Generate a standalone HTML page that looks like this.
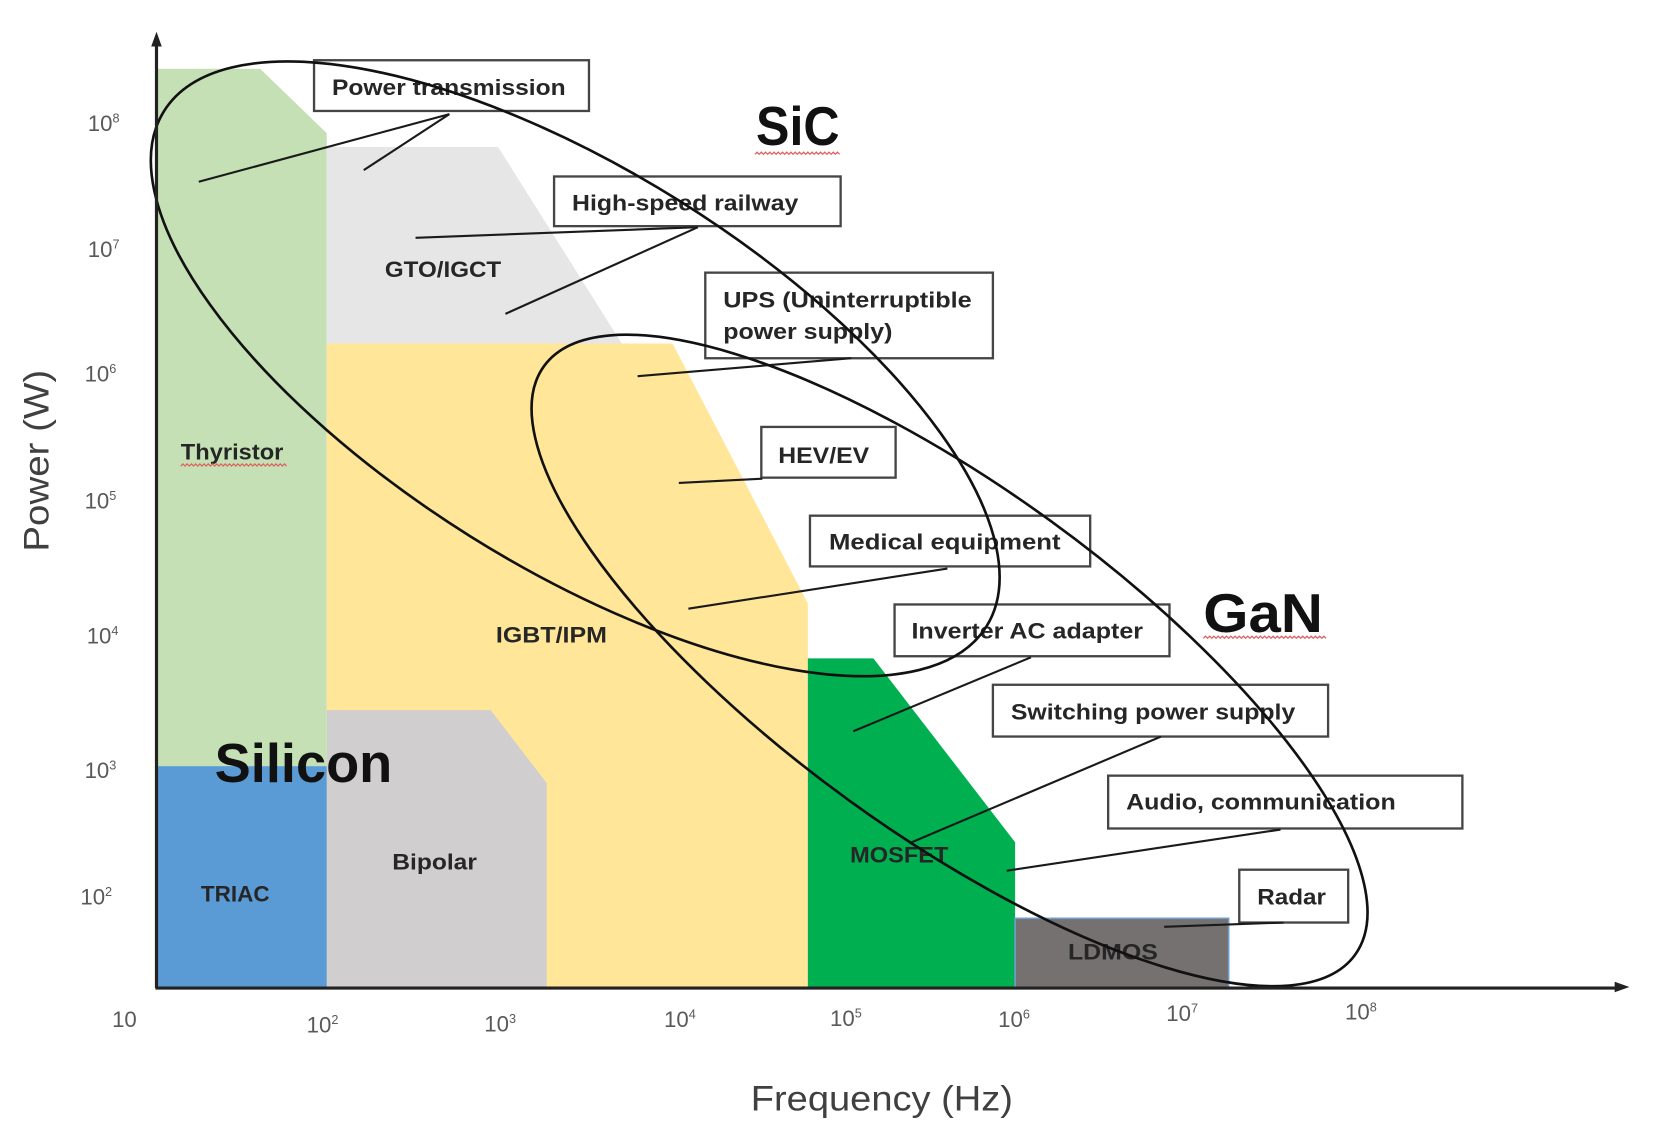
<!DOCTYPE html>
<html><head><meta charset="utf-8"><style>
html,body{margin:0;padding:0;background:#fff;}
svg{display:block;}
text{font-family:"Liberation Sans",Arial,sans-serif;}
.bl{font-weight:bold;fill:#262626;font-size:21px;}
.tk{fill:#595959;font-size:21px;}
.big{font-weight:bold;fill:#111;font-size:52px;}
.ax{fill:#404040;font-size:33px;}
</style></head><body>
<svg width="1658" height="1136" viewBox="0 0 1568 1075" preserveAspectRatio="none" xmlns="http://www.w3.org/2000/svg">
<rect x="0" y="0" width="1568" height="1075" fill="#fff"/>
<!-- regions -->
<polygon points="148,65 246,65 309,126 309,725 148,725" fill="#c5e0b4"/>
<polygon points="309,139 471,139 588,325 309,325" fill="#e6e6e6"/>
<polygon points="309,325 636,325 764,571 764,935 309,935" fill="#ffe699"/>
<polygon points="309,672 464,672 517,741 517,935 309,935" fill="#d0cece"/>
<rect x="148" y="725" width="161" height="210" fill="#5b9bd5"/>
<polygon points="764,623 826,623 960,797 960,935 764,935" fill="#00b050"/>
<rect x="960" y="869" width="202" height="66" fill="#767171" stroke="#6f9fd0" stroke-width="1.5"/>

<!-- region labels -->
<text class="bl" x="171" y="435" textLength="97" lengthAdjust="spacingAndGlyphs">Thyristor</text>
<text class="bl" x="364" y="262" textLength="110" lengthAdjust="spacingAndGlyphs">GTO/IGCT</text>
<text class="bl" x="469" y="608" textLength="105" lengthAdjust="spacingAndGlyphs">IGBT/IPM</text>
<text class="bl" x="190" y="853" textLength="65" lengthAdjust="spacingAndGlyphs">TRIAC</text>
<text class="bl" x="371" y="823" textLength="80" lengthAdjust="spacingAndGlyphs">Bipolar</text>
<text class="bl" x="804" y="816" textLength="93" lengthAdjust="spacingAndGlyphs">MOSFET</text>
<text class="bl" x="1010" y="908" textLength="85" lengthAdjust="spacingAndGlyphs">LDMOS</text>

<!-- big labels -->
<text class="big" x="715" y="137" textLength="79" lengthAdjust="spacingAndGlyphs">SiC</text>
<text class="big" x="1138" y="598" textLength="113" lengthAdjust="spacingAndGlyphs">GaN</text>
<text class="big" x="203" y="740" textLength="168" lengthAdjust="spacingAndGlyphs">Silicon</text>

<!-- red wavy underlines -->
<path d="M714,146 l2,-2 l2,2 l2,-2 l2,2 l2,-2 l2,2 l2,-2 l2,2 l2,-2 l2,2 l2,-2 l2,2 l2,-2 l2,2 l2,-2 l2,2 l2,-2 l2,2 l2,-2 l2,2 l2,-2 l2,2 l2,-2 l2,2 l2,-2 l2,2 l2,-2 l2,2 l2,-2 l2,2 l2,-2 l2,2 l2,-2 l2,2 l2,-2 l2,2 l2,-2 l2,2 l2,-2 l2,2" fill="none" stroke="#e06060" stroke-width="1.2"/>
<path d="M1138,604 l2,-2 l2,2 l2,-2 l2,2 l2,-2 l2,2 l2,-2 l2,2 l2,-2 l2,2 l2,-2 l2,2 l2,-2 l2,2 l2,-2 l2,2 l2,-2 l2,2 l2,-2 l2,2 l2,-2 l2,2 l2,-2 l2,2 l2,-2 l2,2 l2,-2 l2,2 l2,-2 l2,2 l2,-2 l2,2 l2,-2 l2,2 l2,-2 l2,2 l2,-2 l2,2 l2,-2 l2,2 l2,-2 l2,2 l2,-2 l2,2 l2,-2 l2,2 l2,-2 l2,2 l2,-2 l2,2 l2,-2 l2,2 l2,-2 l2,2 l2,-2 l2,2 l2,-2 l2,2" fill="none" stroke="#e06060" stroke-width="1.2"/>
<path d="M171,441 l2,-2 l2,2 l2,-2 l2,2 l2,-2 l2,2 l2,-2 l2,2 l2,-2 l2,2 l2,-2 l2,2 l2,-2 l2,2 l2,-2 l2,2 l2,-2 l2,2 l2,-2 l2,2 l2,-2 l2,2 l2,-2 l2,2 l2,-2 l2,2 l2,-2 l2,2 l2,-2 l2,2 l2,-2 l2,2 l2,-2 l2,2 l2,-2 l2,2 l2,-2 l2,2 l2,-2 l2,2 l2,-2 l2,2 l2,-2 l2,2 l2,-2 l2,2 l2,-2 l2,2 l2,-2 l2,2" fill="none" stroke="#e06060" stroke-width="1.2"/>

<!-- boxes -->
<g fill="#fff" stroke="#454545" stroke-width="2.2">
<rect x="297" y="57" width="260" height="48"/>
<rect x="524" y="167" width="271" height="47"/>
<rect x="667" y="258" width="272" height="81"/>
<rect x="720" y="404" width="127" height="48"/>
<rect x="766" y="488" width="265" height="48"/>
<rect x="846" y="572" width="260" height="49"/>
<rect x="939" y="648" width="317" height="49"/>
<rect x="1048" y="734" width="335" height="50"/>
<rect x="1172" y="823" width="103" height="50"/>
</g>
<text class="bl" x="314" y="90" textLength="221" lengthAdjust="spacingAndGlyphs">Power transmission</text>
<text class="bl" x="541" y="199" textLength="214" lengthAdjust="spacingAndGlyphs">High-speed railway</text>
<text class="bl" x="684" y="291" textLength="235" lengthAdjust="spacingAndGlyphs">UPS (Uninterruptible</text>
<text class="bl" x="684" y="321" textLength="160" lengthAdjust="spacingAndGlyphs">power supply)</text>
<text class="bl" x="736" y="438" textLength="86" lengthAdjust="spacingAndGlyphs">HEV/EV</text>
<text class="bl" x="784" y="520" textLength="219" lengthAdjust="spacingAndGlyphs">Medical equipment</text>
<text class="bl" x="862" y="604" textLength="219" lengthAdjust="spacingAndGlyphs">Inverter AC adapter</text>
<text class="bl" x="956" y="681" textLength="269" lengthAdjust="spacingAndGlyphs">Switching power supply</text>
<text class="bl" x="1065" y="766" textLength="255" lengthAdjust="spacingAndGlyphs">Audio, communication</text>
<text class="bl" x="1189" y="856" textLength="65" lengthAdjust="spacingAndGlyphs">Radar</text>

<!-- connectors -->
<g stroke="#1a1a1a" stroke-width="2" fill="none">
<line x1="188" y1="172" x2="425" y2="108"/>
<line x1="344" y1="161" x2="425" y2="108"/>
<line x1="393" y1="225" x2="660" y2="215"/>
<line x1="478" y1="297" x2="660" y2="215"/>
<line x1="603" y1="356" x2="805" y2="339"/>
<line x1="642" y1="457" x2="721" y2="453"/>
<line x1="651" y1="576" x2="896" y2="538"/>
<line x1="807" y1="692" x2="975" y2="622"/>
<line x1="860" y1="798" x2="1098" y2="697"/>
<line x1="952" y1="824" x2="1211" y2="785"/>
<line x1="1101" y1="877" x2="1214" y2="873"/>
</g>

<!-- ellipses -->
<ellipse cx="544" cy="349" rx="459" ry="187" transform="rotate(32.1 544 349)" fill="none" stroke="#111" stroke-width="2.5"/>
<ellipse cx="898" cy="625" rx="474" ry="163" transform="rotate(36 898 625)" fill="none" stroke="#111" stroke-width="2.5"/>

<!-- axes -->
<line x1="148" y1="40" x2="148" y2="935" stroke="#222" stroke-width="3"/>
<polygon points="148,30 143,44 153,44" fill="#222"/>
<line x1="147" y1="935" x2="1530" y2="935" stroke="#222" stroke-width="3"/>
<polygon points="1541,934 1527,929 1527,939" fill="#222"/>

<!-- tick labels -->
<g class="tk">
<text x="83" y="124">10<tspan font-size="12" dy="-8">8</tspan></text>
<text x="83" y="243">10<tspan font-size="12" dy="-8">7</tspan></text>
<text x="80" y="361">10<tspan font-size="12" dy="-8">6</tspan></text>
<text x="80" y="481">10<tspan font-size="12" dy="-8">5</tspan></text>
<text x="82" y="609">10<tspan font-size="12" dy="-8">4</tspan></text>
<text x="80" y="736">10<tspan font-size="12" dy="-8">3</tspan></text>
<text x="76" y="856">10<tspan font-size="12" dy="-8">2</tspan></text>
<text x="106" y="972">10</text>
<text x="290" y="977">10<tspan font-size="12" dy="-8">2</tspan></text>
<text x="458" y="976">10<tspan font-size="12" dy="-8">3</tspan></text>
<text x="628" y="972">10<tspan font-size="12" dy="-8">4</tspan></text>
<text x="785" y="971">10<tspan font-size="12" dy="-8">5</tspan></text>
<text x="944" y="972">10<tspan font-size="12" dy="-8">6</tspan></text>
<text x="1103" y="966">10<tspan font-size="12" dy="-8">7</tspan></text>
<text x="1272" y="965">10<tspan font-size="12" dy="-8">8</tspan></text>
</g>

<!-- axis titles -->
<text class="ax" x="710" y="1051" textLength="248" lengthAdjust="spacingAndGlyphs">Frequency (Hz)</text>
<text class="ax" transform="translate(46,436) rotate(-90)" x="0" y="0" text-anchor="middle" textLength="172" lengthAdjust="spacingAndGlyphs">Power (W)</text>
</svg>
</body></html>
